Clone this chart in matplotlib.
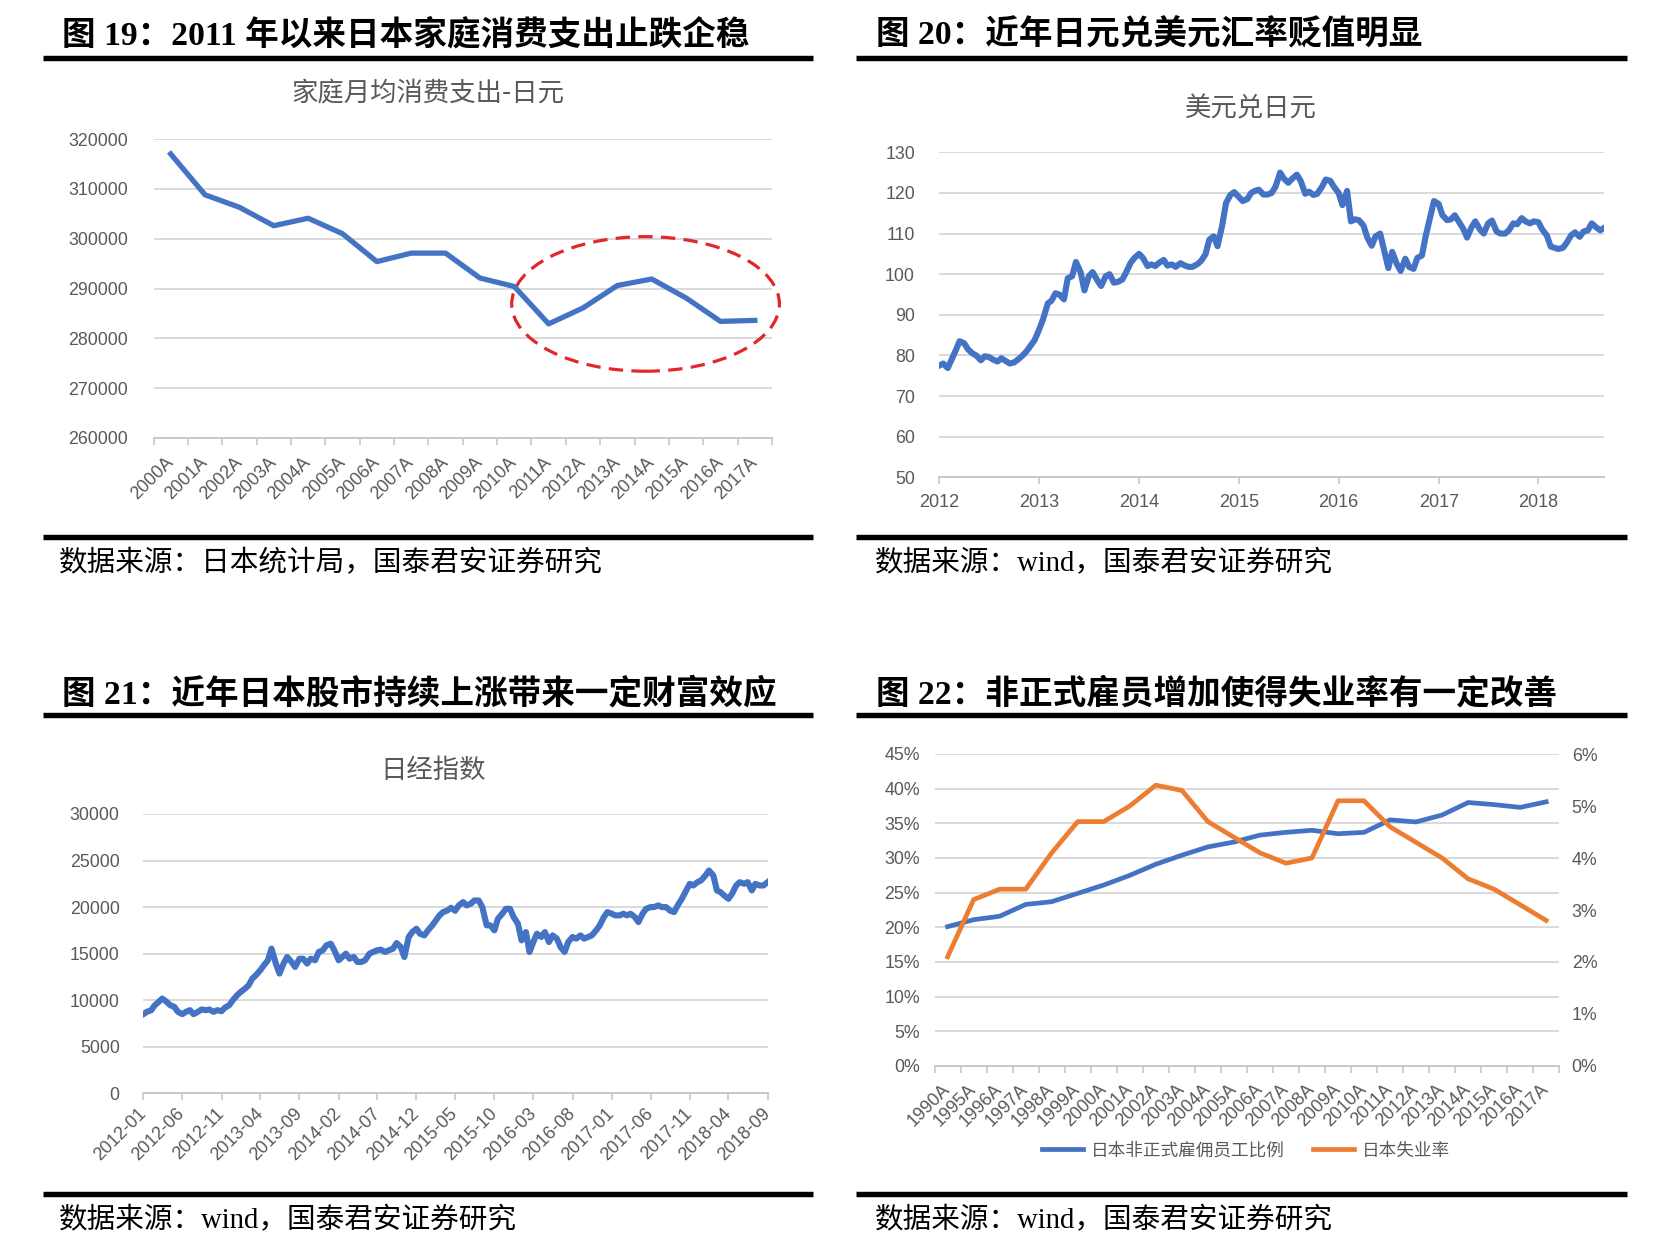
import numpy as np
import pandas as pd
import matplotlib
matplotlib.use('Agg')
import matplotlib.pyplot as plt
from matplotlib.patches import Ellipse
from matplotlib.lines import Line2D
from matplotlib import font_manager

W, H = 1671, 1249
BLUE = '#4472C4'
ORANGE = '#ED7D31'
GRID = '#D9D9D9'
AXIS = '#C8C8C8'
TICK = '#595959'

names = {f.name for f in font_manager.fontManager.ttflist}
NUM_FONT = 'Liberation Sans Narrow' if 'Liberation Sans Narrow' in names else 'Liberation Sans'
CJK = 'Noto Sans CJK SC'
SERIF = ['Liberation Serif', CJK]
plt.rcParams['font.family'] = [NUM_FONT, CJK, 'DejaVu Sans']

# ---- data ----
# fig 19: household monthly consumption (yen)
spend_years = ['2000A', '2001A', '2002A', '2003A', '2004A', '2005A', '2006A', '2007A', '2008A',
               '2009A', '2010A', '2011A', '2012A', '2013A', '2014A', '2015A', '2016A', '2017A']
spend_values = [317000, 308800, 306300, 302600, 304100, 301000, 295400, 297100, 297100,
                292100, 290400, 282900, 286100, 290600, 291900, 288100, 283400, 283600]

# fig 20: USD/JPY, read twice a month (1st, 15th), 2012-01 .. 2018-09
usdjpy_start, usdjpy_end = '2012-01-01', '2018-09-01'
usdjpy = [
    77.5, 78.0, 76.9, 79.0, 81.2, 83.5, 83.0, 81.5, 80.5, 80.0, 78.8, 79.8,
    79.6, 79.0, 78.5, 79.3, 78.6, 78.0, 78.3, 79.0, 80.0, 81.0, 82.5, 83.8,
    86.5, 89.0, 92.8, 93.5, 95.3, 95.0, 93.8, 99.0, 99.5, 103.0, 100.5, 96.0,
    99.5, 100.5, 98.5, 97.1, 99.5, 100.0, 97.9, 98.1, 98.7, 100.5, 102.8, 104.0,
    105.0, 104.0, 102.0, 102.4, 102.0, 102.8, 103.5, 102.1, 102.4, 101.8, 102.7, 102.2,
    101.8, 101.8, 102.4, 103.2, 104.9, 108.5, 109.3, 106.9, 112.0, 117.5, 119.5, 120.2,
    119.0, 118.0, 118.5, 120.0, 120.5, 120.8, 119.6, 119.6, 120.0, 121.5, 125.0, 123.5,
    122.5, 123.5, 124.5, 123.0, 119.8, 120.3, 119.5, 119.8, 121.5, 123.3, 123.0, 121.5,
    120.0, 117.0, 120.5, 113.0, 113.5, 113.3, 112.0, 109.0, 107.0, 109.3, 110.0, 106.0,
    101.5, 105.5, 102.5, 100.8, 103.8, 101.8, 101.3, 104.0, 104.6, 109.5, 114.0, 118.0,
    117.3, 114.5, 113.3, 113.5, 114.5, 113.0, 111.2, 109.0, 111.5, 113.0, 111.0, 110.0,
    112.5, 113.2, 110.5, 110.0, 110.0, 110.8, 112.5, 112.3, 113.8, 113.0, 112.5, 113.0,
    112.8, 111.0, 109.5, 106.8, 106.5, 106.2, 106.5, 107.8, 109.6, 110.3, 109.2, 110.5,
    110.8, 112.5, 111.5, 110.8, 111.5]
usdjpy_years = ['2012', '2013', '2014', '2015', '2016', '2017', '2018']

# fig 21: Nikkei 225, read twice a month (1st, 15th), 2012-01 .. 2018-09
nikkei = [
    8500, 8750, 8930, 9460, 9820, 10180, 9820, 9460, 9290, 8750, 8500, 8750,
    8930, 8500, 8750, 9000, 8930, 9000, 8750, 8930, 8820, 9210, 9460, 10000,
    10540, 10890, 11250, 11610, 12320, 12680, 13210, 13750, 14290, 15540, 13930, 12860,
    13930, 14640, 14110, 13570, 14460, 14460, 13930, 14460, 14290, 15180, 15360, 15890,
    16070, 15360, 14290, 14640, 15000, 14460, 14640, 14110, 14110, 14290, 15000, 15180,
    15360, 15430, 15180, 15360, 15540, 16140, 15710, 14640, 16790, 17320, 17680, 17140,
    16960, 17500, 18040, 18570, 19110, 19460, 19640, 19930, 19600, 20180, 20540, 20180,
    20360, 20710, 20710, 20000, 18040, 18040, 17500, 18750, 19290, 19820, 19820, 18930,
    18210, 16430, 17320, 15180, 16250, 17140, 16790, 17320, 16250, 16960, 16610, 15710,
    15180, 16250, 16790, 16610, 16960, 16610, 16790, 16960, 17500, 18040, 18930, 19460,
    19290, 19110, 19110, 19290, 19110, 19290, 18930, 18390, 19290, 19820, 20000, 20000,
    20180, 20000, 20000, 19640, 19460, 20180, 20890, 21610, 22500, 22320, 22680, 22860,
    23390, 23930, 23390, 21790, 21610, 21250, 20890, 21430, 22320, 22680, 22500, 22680,
    21790, 22500, 22320, 22320, 22680]
nikkei_ticks = ['2012-01', '2012-06', '2012-11', '2013-04', '2013-09', '2014-02', '2014-07',
                '2014-12', '2015-05', '2015-10', '2016-03', '2016-08', '2017-01', '2017-06',
                '2017-11', '2018-04', '2018-09']

# fig 22: non-regular employee share (%) and unemployment rate (%)
emp_years = ['1990A', '1995A', '1996A', '1997A', '1998A', '1999A', '2000A', '2001A', '2002A',
             '2003A', '2004A', '2005A', '2006A', '2007A', '2008A', '2009A', '2010A', '2011A',
             '2012A', '2013A', '2014A', '2015A', '2016A', '2017A']
nonregular = [20.1, 21.1, 21.6, 23.3, 23.7, 24.9, 26.1, 27.5, 29.1, 30.4, 31.6, 32.3,
              33.3, 33.7, 34.0, 33.5, 33.7, 35.5, 35.2, 36.2, 38.0, 37.7, 37.3, 38.1]
unemployment = [2.1, 3.2, 3.4, 3.4, 4.1, 4.7, 4.7, 5.0, 5.4, 5.3, 4.7, 4.4,
                4.1, 3.9, 4.0, 5.1, 5.1, 4.6, 4.3, 4.0, 3.6, 3.4, 3.1, 2.8]

# ---- figure helpers (pixel coords, origin top-left) ----
fig = plt.figure(figsize=(W / 100, H / 100), dpi=100)


def px_axes(left, top, right, bottom):
    return fig.add_axes([left / W, 1 - bottom / H, (right - left) / W, (bottom - top) / H])


def ftext(x, y, s, **kw):
    fig.text(x / W, 1 - y / H, s, **kw)


def rule(x0, x1, y):
    fig.add_artist(Line2D([x0 / W, x1 / W], [1 - y / H, 1 - y / H], transform=fig.transFigure,
                          color='black', lw=3.9, solid_capstyle='butt'))


def base_style(ax, ypad):
    for s in ['top', 'right', 'left']:
        ax.spines[s].set_visible(False)
    ax.spines['bottom'].set_color(AXIS)
    ax.spines['bottom'].set_linewidth(1.4)
    ax.grid(axis='y', color=GRID, lw=1.4)
    ax.set_axisbelow(True)
    ax.tick_params(axis='y', length=0, pad=ypad, labelsize=12.8, labelcolor=TICK)
    ax.tick_params(axis='x', which='both', color=AXIS, width=1.2, labelcolor=TICK, labelsize=13)


def category_axis(ax, labels, pad):
    n = len(labels)
    ax.set_xlim(-0.5, n - 0.5)
    ax.set_xticks(np.arange(n))
    ax.set_xticklabels(labels, rotation=45, ha='right', va='center', rotation_mode='anchor')
    ax.set_xticks(np.arange(n + 1) - 0.5, minor=True)
    ax.tick_params(axis='x', which='major', length=0, pad=pad)
    ax.tick_params(axis='x', which='minor', length=5)


# headings, rules, sources
heading_kw = dict(family=SERIF, weight='bold', fontsize=24.2, va='center', ha='left', color='black')
source_kw = dict(family=SERIF, fontsize=20.6, va='center', ha='left', color='black')
ftext(62, 35, '图 19：2011 年以来日本家庭消费支出止跌企稳', **heading_kw)
ftext(876, 35, '图 20：近年日元兑美元汇率贬值明显', **heading_kw)
ftext(62, 694, '图 21：近年日本股市持续上涨带来一定财富效应', **heading_kw)
ftext(876, 694, '图 22：非正式雇员增加使得失业率有一定改善', **heading_kw)
for y in [57.5, 536.8, 714.8, 1194]:
    rule(43, 813, y)
    rule(856, 1627, y)
ftext(59, 564, '数据来源：日本统计局，国泰君安证券研究', **source_kw)
ftext(875, 564, '数据来源：wind，国泰君安证券研究', **source_kw)
ftext(59, 1221, '数据来源：wind，国泰君安证券研究', **source_kw)
ftext(875, 1221, '数据来源：wind，国泰君安证券研究', **source_kw)

title_kw = dict(family=[CJK], fontsize=19, color=TICK, ha='center', va='center')

# ---- fig 19 ----
ax1 = px_axes(153.5, 139, 772, 438)
base_style(ax1, 18.5)
ax1.plot(np.arange(len(spend_values)), spend_values, color=BLUE, lw=3.8, solid_joinstyle='round')
ax1.set_ylim(260000, 320000)
ax1.set_yticks(np.arange(260000, 320001, 10000))
ax1.set_yticklabels([str(v) for v in range(260000, 320001, 10000)])
category_axis(ax1, spend_years, 16)
ax1.add_patch(Ellipse((13.82, 286900), 7.79, 27000, fill=False, edgecolor='#E3262B', lw=2.3,
                      linestyle=(0, (4.5, 2.6)), clip_on=False))
ftext(428, 94, '家庭月均消费支出-日元', **title_kw)

# ---- fig 20 ----
ax2 = px_axes(939.3, 152.3, 1604, 477.3)
base_style(ax2, 17.5)
fx_dates = pd.date_range(usdjpy_start, usdjpy_end, freq='SMS')
ax2.plot(fx_dates, usdjpy, color=BLUE, lw=4.4, solid_joinstyle='round')
ax2.set_ylim(50, 130)
ax2.set_yticks(np.arange(50, 131, 10))
ax2.set_xlim(pd.Timestamp('2012-01-01'), pd.Timestamp('2018-08-29'))
ax2.set_xticks(pd.to_datetime([y + '-01-01' for y in usdjpy_years]))
ax2.set_xticklabels(usdjpy_years)
ax2.tick_params(axis='x', length=5, pad=7)
ftext(1251, 109, '美元兑日元', **title_kw)

# ---- fig 21 ----
ax3 = px_axes(143.3, 814, 767.7, 1093.3)
base_style(ax3, 17)
nk_dates = pd.date_range('2012-01-01', '2018-09-01', freq='SMS')
ax3.plot(nk_dates, nikkei, color=BLUE, lw=4.4, solid_joinstyle='round')
ax3.set_ylim(0, 30000)
ax3.set_yticks(np.arange(0, 30001, 5000))
ax3.set_xlim(pd.Timestamp('2012-01-01'), pd.Timestamp('2018-09-01'))
ax3.set_xticks(pd.to_datetime(nikkei_ticks))
ax3.set_xticklabels(nikkei_ticks, rotation=45, ha='right', va='center', rotation_mode='anchor')
ax3.tick_params(axis='x', length=5, pad=8)
ftext(433, 770, '日经指数', **title_kw)

# ---- fig 22 ----
ax4 = px_axes(934.6, 754, 1559.2, 1066)
base_style(ax4, 10.5)
x4 = np.arange(len(emp_years))
l1, = ax4.plot(x4, np.array(nonregular) / 100, color=BLUE, lw=3.4, solid_joinstyle='round')
ax4.set_ylim(0, 0.45)
ax4.set_yticks(np.arange(0, 0.451, 0.05))
ax4.set_yticklabels(['%d%%' % v for v in range(0, 46, 5)])
category_axis(ax4, emp_years, 15)
ax4b = ax4.twinx()
for s in ['top', 'right', 'left', 'bottom']:
    ax4b.spines[s].set_visible(False)
l2, = ax4b.plot(x4, np.array(unemployment) / 100, color=ORANGE, lw=3.4, solid_joinstyle='round')
ax4b.set_ylim(0, 0.06)
ax4b.set_yticks(np.arange(0, 0.0601, 0.01))
ax4b.set_yticklabels(['%d%%' % v for v in range(0, 7)])
ax4b.tick_params(axis='y', length=0, pad=9, labelsize=12.8, labelcolor=TICK)
fig.legend([l1, l2], ['日本非正式雇佣员工比例', '日本失业率'], loc='center',
           bbox_to_anchor=(1246 / W, 1 - 1150.5 / H), ncol=2, frameon=False,
           prop={'family': [CJK], 'size': 12.7}, labelcolor=TICK,
           handlelength=2.3, handletextpad=0.45, columnspacing=1.6)

fig.savefig('out.png', dpi=100, facecolor='white')
